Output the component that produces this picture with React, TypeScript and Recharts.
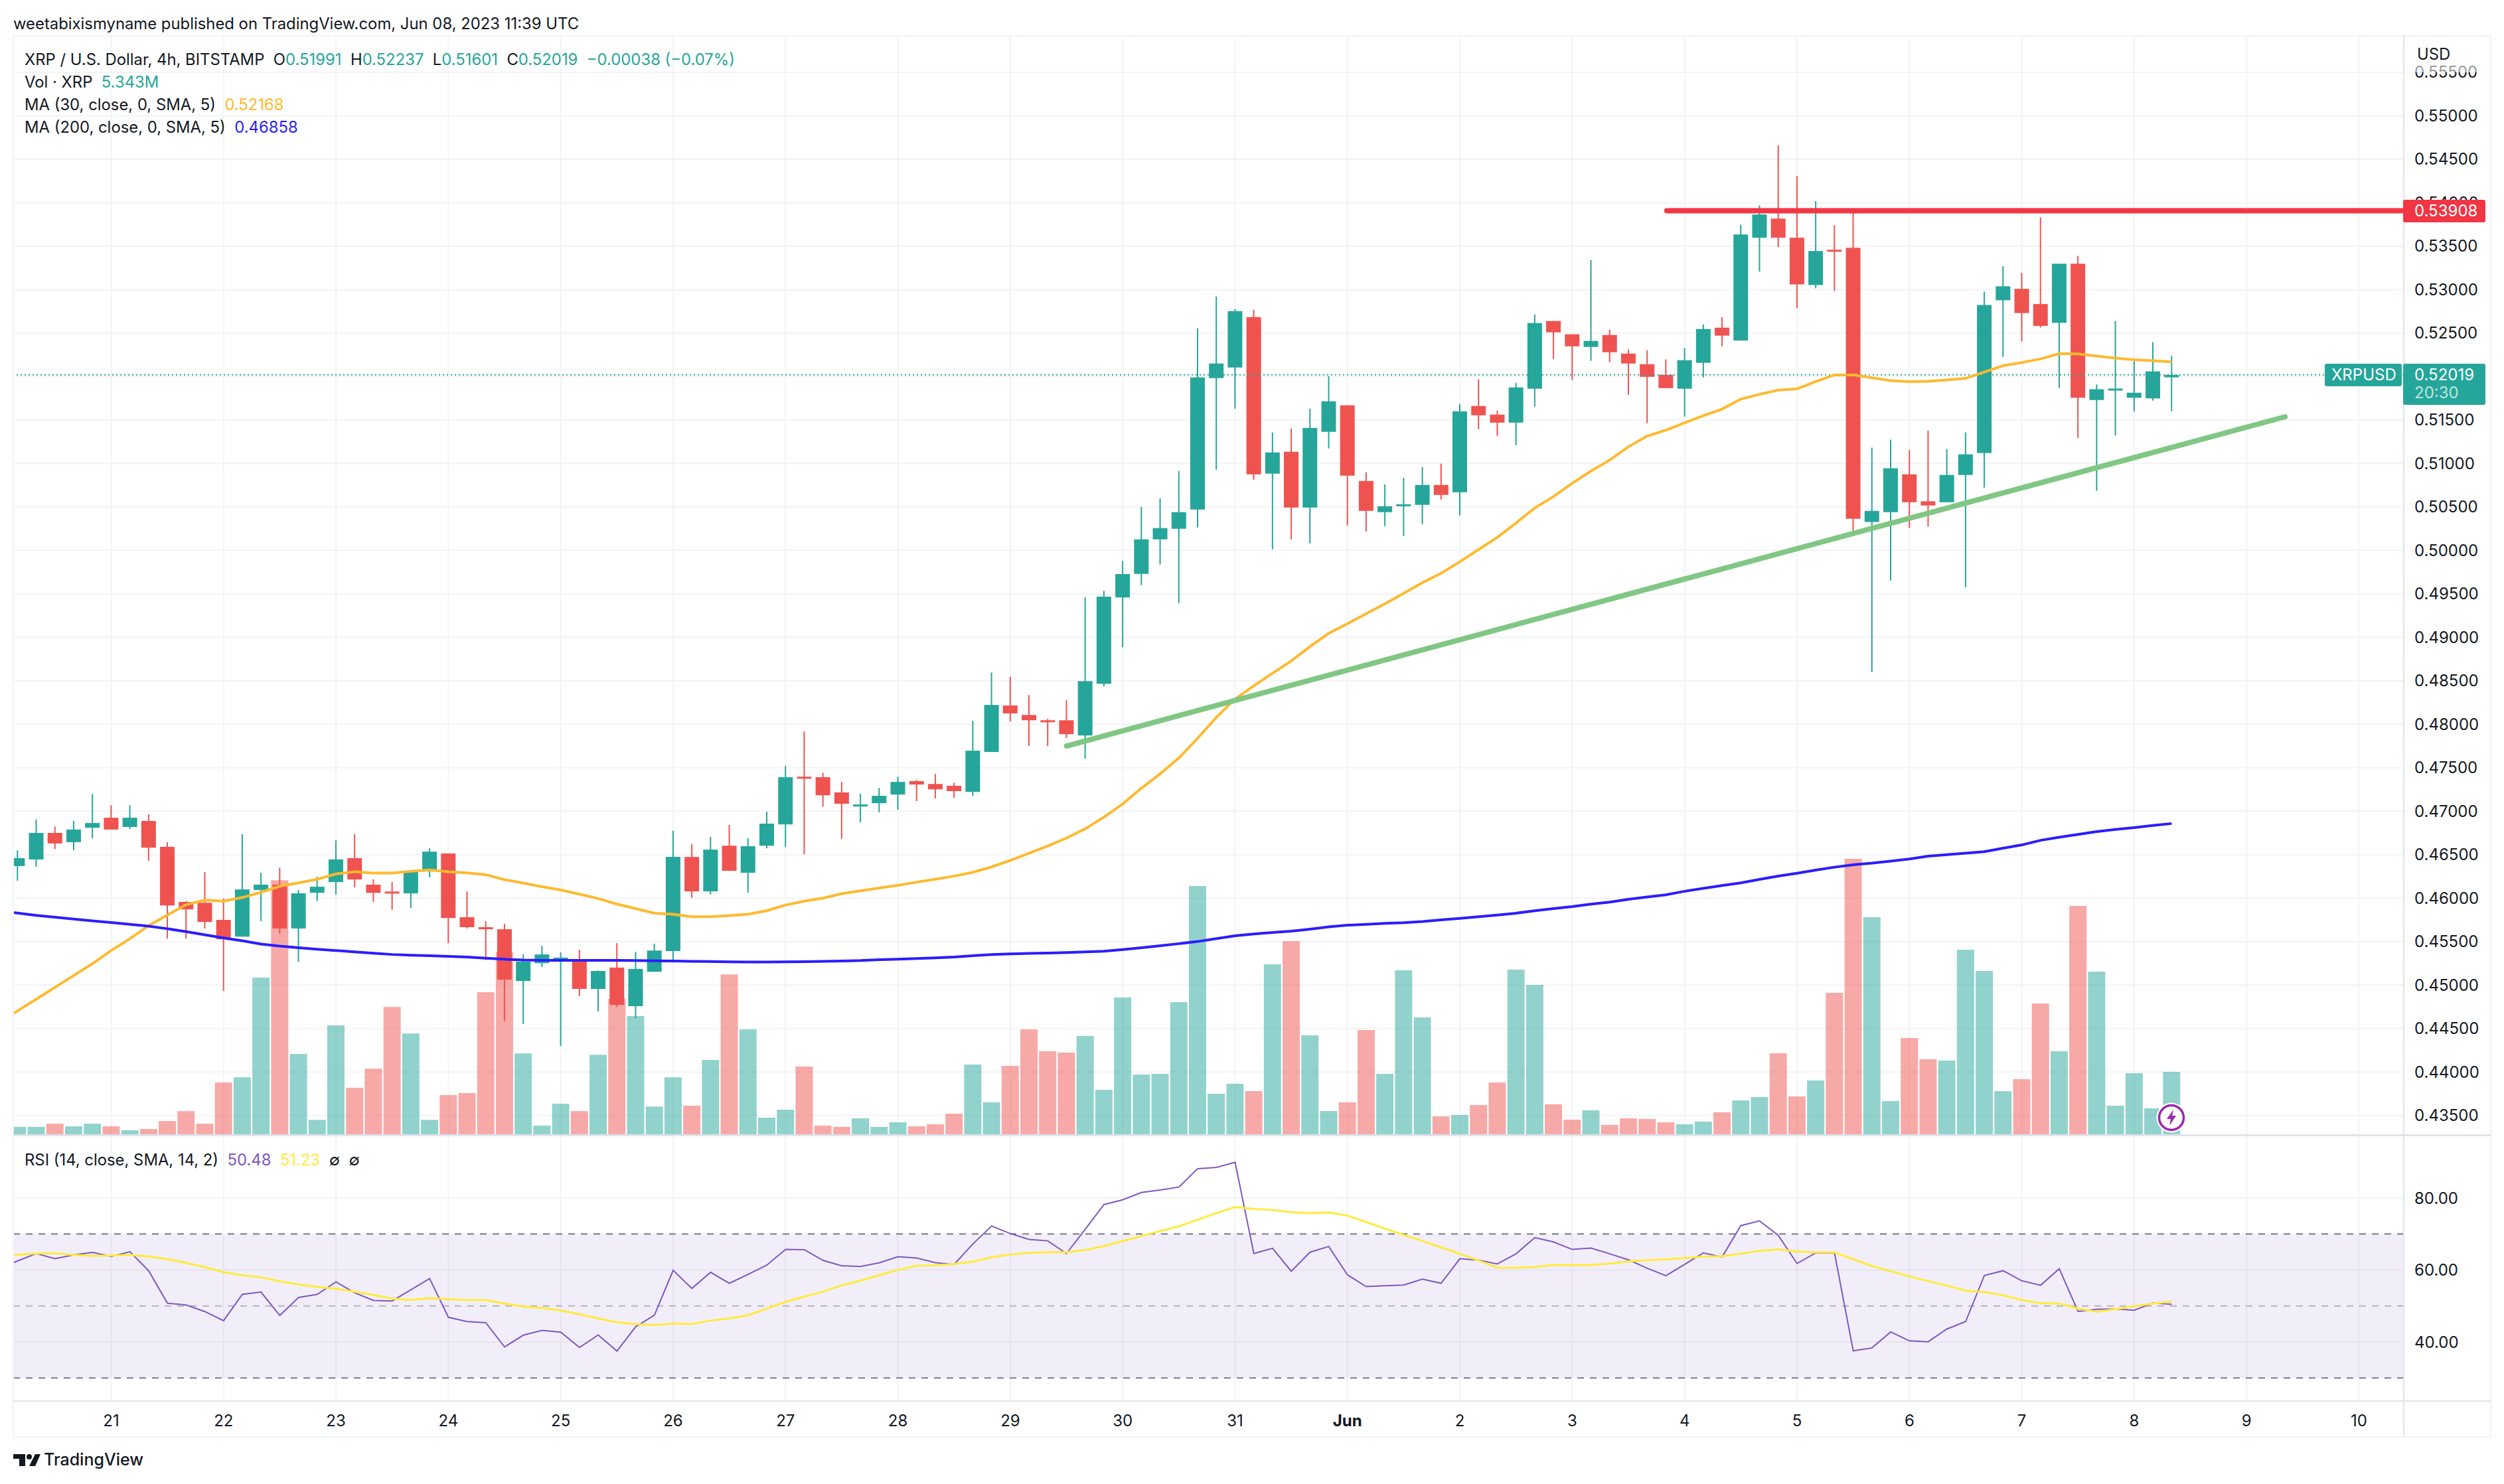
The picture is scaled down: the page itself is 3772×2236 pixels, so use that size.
import { Bar, CartesianGrid, Cell, ComposedChart, Line, ReferenceArea, ReferenceLine, XAxis, YAxis } from "recharts";

// candles run from bar -5 (May 20 04:00) to bar 110 (Jun 8 08:00), six bars a day, bar 0 = May 21
const highs = [
  0.4655, 0.46904, 0.46825, 0.46888, 0.47199,
  0.4707, 0.4707, 0.46964, 0.46644, 0.45965, 0.463,
  0.45995, 0.46735, 0.46291, 0.46351, 0.46094, 0.46245,
  0.46665, 0.46735, 0.46215, 0.46185, 0.46306, 0.46574,
  0.46514, 0.46076, 0.45735, 0.45705, 0.45352, 0.45451,
  0.45376, 0.45406, 0.45168, 0.45482, 0.45382, 0.45476,
  0.46774, 0.4662, 0.46703, 0.46842, 0.46688, 0.46993,
  0.47521, 0.47917, 0.47443, 0.47337, 0.47201, 0.47268,
  0.47397, 0.47361, 0.47428, 0.47328, 0.4804, 0.48596,
  0.48545, 0.48336, 0.48062, 0.48276, 0.49459, 0.49535,
  0.49879, 0.50501, 0.506, 0.50913, 0.52555, 0.52921,
  0.52776, 0.52768, 0.51356, 0.51402, 0.51631, 0.52005,
  0.51669, 0.50898, 0.5076, 0.50837, 0.50959, 0.50997,
  0.51684, 0.51967, 0.51608, 0.51929, 0.52715, 0.52639,
  0.52486, 0.53339, 0.52539, 0.5231, 0.52303, 0.52196,
  0.5233, 0.526, 0.52684, 0.53747, 0.5397, 0.54657,
  0.54306, 0.54018, 0.5374, 0.53882, 0.51182, 0.51274,
  0.51153, 0.51379, 0.51168, 0.51358, 0.52976, 0.53269,
  0.53192, 0.53831, 0.53298, 0.53389, 0.51909, 0.5264,
  0.52205, 0.52395, 0.52237,
];
const lows = [
  0.462, 0.4636, 0.46565, 0.4655, 0.46689,
  0.46789, 0.46795, 0.4643, 0.45536, 0.45536, 0.45651,
  0.44932, 0.45557, 0.45735, 0.4559, 0.45267, 0.45965,
  0.4604, 0.46125, 0.45956, 0.45865, 0.45886, 0.46239,
  0.45482, 0.45651, 0.45288, 0.44588, 0.44552, 0.45207,
  0.44298, 0.44872, 0.44697, 0.44748, 0.44618, 0.45153,
  0.45261, 0.46003, 0.46042, 0.46314, 0.46063, 0.46573,
  0.46588, 0.46504, 0.47053, 0.46682, 0.46872, 0.46987,
  0.47017, 0.47117, 0.47147, 0.47153, 0.47177, 0.47681,
  0.48031, 0.47751, 0.47751, 0.47841, 0.47606, 0.48436,
  0.48886, 0.49602, 0.49837, 0.49394, 0.50264, 0.50928,
  0.51631, 0.50814, 0.50012, 0.50127, 0.50081, 0.51173,
  0.50287, 0.50218, 0.50279, 0.50165, 0.50302, 0.50585,
  0.50402, 0.51394, 0.51318, 0.51211, 0.51654, 0.52203,
  0.51959, 0.52181, 0.52165, 0.51791, 0.51463, 0.51867,
  0.51539, 0.5199, 0.52348, 0.52414, 0.53206, 0.53488,
  0.52786, 0.53016, 0.52984, 0.50203, 0.486, 0.49655,
  0.50258, 0.50272, 0.50554, 0.49578, 0.50722, 0.52227,
  0.52403, 0.52563, 0.51869, 0.51295, 0.50685, 0.51321,
  0.51595, 0.51723, 0.51601,
];
const opens = [
  0.46369, 0.46445, 0.4675, 0.46644, 0.4681,
  0.46925, 0.46819, 0.46888, 0.4659, 0.45956, 0.45947,
  0.4575, 0.45557, 0.46094, 0.46155, 0.45651, 0.46061,
  0.46185, 0.4646, 0.46155, 0.46076, 0.46055, 0.46306,
  0.46514, 0.4578, 0.45666, 0.45642, 0.45047, 0.45252,
  0.45282, 0.45297, 0.44956, 0.45201, 0.44757, 0.45153,
  0.45391, 0.46474, 0.46078, 0.46603, 0.46292, 0.46603,
  0.46848, 0.47397, 0.47391, 0.47216, 0.47065, 0.47092,
  0.47192, 0.47346, 0.47313, 0.47292, 0.47222, 0.47681,
  0.48216, 0.48107, 0.48046, 0.48046, 0.47871, 0.48466,
  0.49459, 0.4973, 0.50127, 0.50249, 0.5047, 0.51982,
  0.52104, 0.52684, 0.50883, 0.51135, 0.50493, 0.51364,
  0.51669, 0.50799, 0.5044, 0.50516, 0.50524, 0.50753,
  0.50669, 0.51661, 0.51562, 0.5147, 0.5186, 0.52639,
  0.52486, 0.52341, 0.52478, 0.52264, 0.52142, 0.5202,
  0.5186, 0.52158, 0.52562, 0.52414, 0.53597, 0.53817,
  0.53597, 0.53053, 0.53459, 0.53481, 0.50327, 0.5044,
  0.50875, 0.50565, 0.50554, 0.50868, 0.5112, 0.52878,
  0.53009, 0.52834, 0.52618, 0.53298, 0.5173, 0.5184,
  0.51756, 0.51749, 0.51991,
];
const closes = [
  0.4646, 0.4675, 0.46629, 0.46789, 0.46864,
  0.46789, 0.46925, 0.4658, 0.45916, 0.45871, 0.45726,
  0.45527, 0.461, 0.46155, 0.45651, 0.46055, 0.46131,
  0.46445, 0.46215, 0.46061, 0.46055, 0.46306, 0.46535,
  0.45771, 0.45666, 0.45642, 0.45062, 0.4527, 0.45352,
  0.45316, 0.44956, 0.45162, 0.44772, 0.45186, 0.45397,
  0.46475, 0.46078, 0.46558, 0.46314, 0.46597, 0.46857,
  0.47391, 0.47382, 0.47183, 0.47086, 0.47077, 0.47177,
  0.47337, 0.47307, 0.47252, 0.47231, 0.47696, 0.48222,
  0.48125, 0.48046, 0.48031, 0.47886, 0.48496, 0.49468,
  0.49728, 0.50127, 0.50257, 0.5044, 0.5199, 0.5215,
  0.52753, 0.50875, 0.51127, 0.50493, 0.51409, 0.51715,
  0.5086, 0.50455, 0.50508, 0.50531, 0.50753, 0.50638,
  0.516, 0.51554, 0.5147, 0.51875, 0.52616, 0.52509,
  0.52348, 0.5241, 0.5228, 0.5215, 0.51997, 0.51867,
  0.52188, 0.52547, 0.52471, 0.53634, 0.53864, 0.53597,
  0.5306, 0.53444, 0.53437, 0.50364, 0.50455, 0.50945,
  0.50554, 0.50517, 0.50868, 0.51105, 0.52823, 0.53038,
  0.52731, 0.52582, 0.53298, 0.51756, 0.51854, 0.51862,
  0.51814, 0.52059, 0.52019,
];
// volume in millions of XRP
const volumes = [
  0.63, 0.63, 0.9, 0.68, 0.9,
  0.68, 0.34, 0.45, 1.13, 1.98, 0.9,
  4.43, 4.88, 13.41, 21.76, 6.88, 1.23,
  9.32, 3.98, 5.62, 10.9, 8.63, 1.23,
  3.35, 3.52, 12.16, 15.62, 6.92, 0.74,
  2.61, 1.98, 6.81, 11.6, 10.12, 2.38,
  4.88, 2.45, 6.36, 13.69, 8.98, 1.42,
  2.1, 5.8, 0.74, 0.63, 1.36, 0.63,
  1.02, 0.68, 0.85, 1.76, 5.97, 2.73,
  5.85, 8.98, 7.11, 6.99, 8.41, 3.81,
  11.71, 5.12, 5.17, 11.31, 21.26, 3.47,
  4.32, 3.69, 14.55, 16.54, 8.47, 1.99,
  2.73, 8.92, 5.17, 14.04, 10.0, 1.53,
  1.65, 2.5, 4.43, 14.1, 12.79, 2.56,
  1.25, 2.05, 0.8, 1.36, 1.31, 1.02,
  0.85, 1.08, 1.88, 2.9, 3.18, 6.93,
  3.24, 4.6, 12.11, 23.59, 18.59, 2.84,
  8.24, 6.42, 6.31, 15.8, 13.98, 3.69,
  4.72, 11.2, 7.11, 19.55, 13.93, 2.44,
  5.23, 2.22, 5.343,
];
const ma30 = [
  0.44703, 0.44838, 0.44974, 0.4511, 0.45246,
  0.45397, 0.45533, 0.45684, 0.45805, 0.45925, 0.45977,
  0.45965, 0.46007, 0.46067, 0.46137, 0.46176, 0.46218,
  0.46279, 0.46303, 0.46288, 0.46288, 0.46309, 0.46324,
  0.46303, 0.46291, 0.4627, 0.46212, 0.46173, 0.46131,
  0.46094, 0.46046, 0.45995, 0.45931, 0.4588, 0.45826,
  0.45814, 0.45786, 0.45786, 0.45799, 0.45815, 0.45855,
  0.45921, 0.45966, 0.46, 0.46051, 0.46084, 0.46117,
  0.46147, 0.46184, 0.46217, 0.46253, 0.46298, 0.46359,
  0.46434, 0.46516, 0.466, 0.46691, 0.46797, 0.46932,
  0.47083, 0.47265, 0.47431, 0.47612, 0.47838, 0.4808,
  0.48291, 0.48442, 0.48587, 0.48729, 0.48895, 0.49046,
  0.49157, 0.49272, 0.49386, 0.49506, 0.49628, 0.49737,
  0.4987, 0.5001, 0.5015, 0.50315, 0.50488, 0.5062,
  0.50773, 0.50913, 0.5104, 0.51193, 0.51315, 0.51384,
  0.51468, 0.51549, 0.51626, 0.51741, 0.51796, 0.51844,
  0.51858, 0.51942, 0.52019, 0.52019, 0.51986, 0.51953,
  0.51942, 0.51946, 0.5196, 0.51979, 0.52052, 0.52125,
  0.52161, 0.52202, 0.52264, 0.5226, 0.52235, 0.52213,
  0.52194, 0.52183, 0.52168,
];
const ma200 = [
  0.45829, 0.45802, 0.4578, 0.45759, 0.45738,
  0.4572, 0.45699, 0.45678, 0.45648, 0.45614, 0.45578,
  0.45542, 0.45509, 0.45472, 0.45448, 0.4543, 0.45412,
  0.45397, 0.45382, 0.45367, 0.45352, 0.45343, 0.45337,
  0.45331, 0.45322, 0.45309, 0.45297, 0.45288, 0.45285,
  0.45285, 0.45285, 0.45285, 0.45285, 0.45282, 0.45279,
  0.45276, 0.45273, 0.4527, 0.45267, 0.45265, 0.45265,
  0.45268, 0.45269, 0.45272, 0.45277, 0.45282, 0.45292,
  0.45297, 0.45305, 0.45313, 0.45323, 0.45338, 0.45351,
  0.45358, 0.45364, 0.45369, 0.45374, 0.45381, 0.45389,
  0.45409, 0.4543, 0.45453, 0.45476, 0.45501, 0.45534,
  0.45567, 0.45588, 0.45605, 0.45621, 0.45643, 0.45669,
  0.45689, 0.45699, 0.4571, 0.45717, 0.4573, 0.4575,
  0.45768, 0.45786, 0.45806, 0.45827, 0.45855, 0.4588,
  0.45903, 0.45931, 0.45954, 0.45987, 0.46013, 0.46038,
  0.46079, 0.46112, 0.46145, 0.46175, 0.46216, 0.46254,
  0.46287, 0.46323, 0.46356, 0.46384, 0.46402, 0.46425,
  0.4645, 0.46483, 0.465, 0.46517, 0.46535, 0.46575,
  0.46612, 0.46665, 0.467, 0.46733, 0.46765, 0.4679,
  0.46812, 0.46836, 0.46858,
];
const rsi = [
  62.49, 64.56, 63.12, 64.19, 64.88,
  63.75, 65.07, 59.78, 50.77, 50.26, 48.44,
  45.92, 53.22, 53.85, 47.37, 52.34, 53.22,
  56.69, 53.67, 51.52, 51.4, 54.48, 57.63,
  46.86, 45.66, 45.35, 38.61, 41.88, 43.21,
  42.7, 38.48, 41.95, 37.47, 44.22, 47.43,
  59.9, 54.86, 59.34, 56.31, 58.77, 61.35,
  65.7, 65.64, 62.67, 61.16, 60.97, 61.98,
  63.68, 63.3, 62.04, 61.54, 67.21, 72.19,
  70.11, 68.47, 68.09, 64.56, 71.31, 78.17,
  79.5, 81.51, 82.2, 83.02, 88.13, 88.5,
  89.89, 64.56, 66.01, 59.65, 64.94, 66.52,
  58.64, 55.37, 55.62, 55.81, 57.45, 56.31,
  63.12, 62.74, 61.67, 64.5, 68.97, 67.78,
  65.7, 66.08, 64.5, 62.8, 60.47, 58.39,
  61.54, 64.75, 63.62, 72.31, 73.64, 69.6,
  61.79, 64.75, 64.75, 37.54, 38.36, 42.77,
  40.31, 40.06, 43.59, 45.66, 58.45, 59.78,
  57.0, 55.74, 60.34, 48.5, 49.07, 49.19,
  48.81, 50.83, 50.48,
];
const rsiMa = [
  64.19, 64.56, 64.63, 64.19, 63.93,
  64.0, 64.19, 63.75, 62.99, 61.98, 60.78,
  59.4, 58.52, 57.95, 56.88, 56.0, 55.3,
  54.8, 53.98, 53.04, 52.03, 51.65, 52.15,
  51.9, 51.65, 51.59, 50.7, 49.82, 49.44,
  48.75, 47.68, 46.55, 45.48, 44.97, 44.72,
  45.1, 44.97, 45.92, 46.55, 47.43, 49.26,
  51.15, 52.59, 53.98, 55.74, 57.0, 58.52,
  60.03, 61.16, 61.29, 61.67, 62.3, 63.49,
  64.31, 64.75, 64.94, 64.94, 65.51, 66.64,
  68.03, 69.42, 70.8, 72.12, 73.95, 75.78,
  77.48, 76.98, 76.66, 76.03, 75.78, 75.97,
  75.09, 73.32, 71.49, 69.73, 68.03, 66.27,
  64.5, 62.61, 60.66, 60.6, 60.85, 61.35,
  61.35, 61.35, 61.79, 62.36, 62.74, 62.93,
  63.3, 63.75, 63.81, 64.5, 65.32, 65.7,
  65.13, 64.88, 64.88, 62.99, 61.1, 59.65,
  58.2, 56.88, 55.68, 54.23, 53.85, 52.97,
  51.65, 50.77, 50.7, 49.26, 48.37, 49.13,
  49.89, 50.64, 51.23,
];

const priceTicks = [
  0.435, 0.44, 0.445, 0.45, 0.455, 0.46, 0.465, 0.47, 0.475, 0.48, 0.485, 0.49, 0.495, 0.5,
  0.505, 0.51, 0.515, 0.52, 0.525, 0.53, 0.535, 0.54, 0.545, 0.55, 0.555,
];
const rsiTicks = [40, 60, 80];
const dayBars = [0, 6, 12, 18, 24, 30, 36, 42, 48, 54, 60, 66, 72, 78, 84, 90, 96, 102, 108, 114, 120];
const dayLabels = ["21", "22", "23", "24", "25", "26", "27", "28", "29", "30", "31", "Jun", "2", "3", "4", "5", "6", "7", "8", "9", "10"];

const resistance = 0.53908;
const lastPrice = 0.52019;
const trendStart = { x: 51, y: 0.4775 };
const trendEnd = { x: 116.05, y: 0.51537 };

// the indicators run off the left edge of the chart, so they get one bar more than the candles
const offscreenBar = { bar: -6, ma30: 0.44568, ma200: 0.4585, rsi: 60.4, rsiMa: 64.1 };

const rows: any[] = [
  offscreenBar,
  ...highs.map((high, i) => ({
    bar: i - 5,
    high,
    low: lows[i],
    open: opens[i],
    close: closes[i],
    volume: volumes[i],
    ma30: ma30[i],
    ma200: ma200[i],
    rsi: rsi[i],
    rsiMa: rsiMa[i],
  })),
];

const UP = "#26a69a";
const DOWN = "#ef5350";
const GRID = "#f2f3f5";
const EDGE = "#e0e3eb";
const FRAME = "#f0f3fa";
const INK = "#131722";
const FONT = "Inter, sans-serif";
const xDomain: [number, number] = [-5.2274, 122.391];

function Candle(props: any) {
  const { x, y, width, height, payload } = props;
  if (payload.high == null) return null;
  const top = Math.min(y, y + height);
  const h = Math.abs(height);
  const { open, close, high, low } = payload;
  const perUnit = h / (high - low);
  const color = close >= open ? UP : DOWN;
  const cx = x + width / 2;
  const bodyTop = top + (high - Math.max(open, close)) * perUnit;
  const bodyH = Math.max(Math.abs(open - close) * perUnit, 3);
  return (
    <g>
      <line x1={cx} x2={cx} y1={top} y2={top + h} stroke={color} strokeWidth={2} />
      <rect x={x} y={bodyTop} width={width} height={bodyH} fill={color} />
    </g>
  );
}

function DayTick(props: any) {
  const { x, y, payload } = props;
  const label = dayLabels[dayBars.indexOf(payload.value)];
  return (
    <text x={x} y={y + 27} textAnchor="middle" dominantBaseline="central" fontFamily={FONT} fontSize={24} fill={INK} fontWeight={label === "Jun" ? 700 : 400}>
      {label}
    </text>
  );
}

const textStyle: React.CSSProperties = { position: "absolute", fontFamily: FONT, fontSize: 23.85, lineHeight: "30px", color: INK, whiteSpace: "pre" };

function Legend() {
  return (
    <>
      <div style={{ ...textStyle, left: 20, top: 21 }}>weetabixismyname published on TradingView.com, Jun 08, 2023 11:39 UTC</div>
      <div style={{ ...textStyle, left: 37, top: 75 }}>
        XRP / U.S. Dollar, 4h, BITSTAMP{"  "}O<span style={{ color: UP }}>0.51991</span>{"  "}H<span style={{ color: UP }}>0.52237</span>{"  "}L<span style={{ color: UP }}>0.51601</span>{"  "}C<span style={{ color: UP }}>0.52019{"  "}−0.00038 (−0.07%)</span>
      </div>
      <div style={{ ...textStyle, left: 37, top: 109 }}>Vol · XRP{"  "}<span style={{ color: UP }}>5.343M</span></div>
      <div style={{ ...textStyle, left: 37, top: 143 }}>MA (30, close, 0, SMA, 5){"  "}<span style={{ color: "#ffb92e" }}>0.52168</span></div>
      <div style={{ ...textStyle, left: 37, top: 177 }}>MA (200, close, 0, SMA, 5){"  "}<span style={{ color: "#2a1dff" }}>0.46858</span></div>
      <div style={{ ...textStyle, left: 37, top: 1733 }}>
        RSI (14, close, SMA, 14, 2){"  "}<span style={{ color: "#7e57c2" }}>50.48</span>{"  "}<span style={{ color: "#ffeb3b" }}>51.23</span>{"  "}∅{"  "}∅
      </div>
      <div style={{ ...textStyle, left: 3641, top: 67 }}>USD</div>
    </>
  );
}

function PriceTags() {
  const box: React.CSSProperties = { position: "absolute", borderRadius: 3, fontFamily: FONT, fontSize: 24, color: "#fff", whiteSpace: "pre" };
  return (
    <>
      {/* the top tick is half faded under the currency label */}
      <div style={{ position: "absolute", left: 3630, top: 98, width: 110, height: 11, background: "rgba(255,255,255,0.55)" }} />
      <div style={{ ...box, left: 3620, top: 301, width: 124, height: 34, lineHeight: "34px", background: "#f23645", paddingLeft: 17, boxSizing: "border-box" }}>0.53908</div>
      <div style={{ ...box, left: 3502, top: 548, width: 116, height: 34, lineHeight: "34px", background: UP, paddingLeft: 10, boxSizing: "border-box" }}>XRPUSD</div>
      <div style={{ ...box, left: 3620, top: 548, width: 124, height: 62, lineHeight: "27px", background: UP, paddingLeft: 17, paddingTop: 3, boxSizing: "border-box" }}>
        0.52019
        <br />
        <span style={{ color: "#bfe5e1" }}>20:30</span>
      </div>
    </>
  );
}

function Frame() {
  const line = (left: number, top: number, width: number, height: number, background: string) => (
    <div style={{ position: "absolute", left, top, width, height, background }} />
  );
  return (
    <>
      {line(20, 53, 3733, 2, FRAME)}
      {line(20, 2164, 3733, 2, FRAME)}
      {line(19, 53, 2, 2113, FRAME)}
      {line(3751, 53, 2, 2113, FRAME)}
      {line(3620, 53, 2, 2112, EDGE)}
      {line(20, 1709, 3733, 3, EDGE)}
      {line(20, 2110, 3733, 2, EDGE)}
    </>
  );
}

function Bolt() {
  return (
    <svg width={48} height={48} style={{ position: "absolute", left: 3247, top: 1660 }}>
      <circle cx={24} cy={24} r={22.5} fill="#fff" />
      <circle cx={24} cy={24} r={18.5} fill="#fff" stroke="#9c27b0" strokeWidth={3.5} />
      <polygon points="27,12 17,26 23,26 21,36 31,21 25,21" fill="#9c27b0" />
    </svg>
  );
}

function Logo() {
  return (
    <svg width={240} height={40} style={{ position: "absolute", left: 20, top: 2180 }}>
      <path d="M0 11H18V29H9V18H0Z" fill={INK} />
      <circle cx={24} cy={15} r={4} fill={INK} />
      <path d="M33 11H41L33 29H24Z" fill={INK} />
      <text x={46} y={28} fontFamily={FONT} fontSize={25} fontWeight={500} fill={INK}>TradingView</text>
    </svg>
  );
}

export default function App() {
  return (
    <div style={{ position: "absolute", left: 0, top: 0, width: 3772, height: 2236, background: "#fff", overflow: "hidden" }}>
      <div style={{ position: "absolute", left: 20, top: 53 }}>
        <ComposedChart width={3732} height={1658} data={rows} margin={{ top: 0, right: 0, bottom: 0, left: 0 }}>
          <XAxis xAxisId="main" type="number" dataKey="bar" domain={xDomain} ticks={dayBars} hide allowDataOverflow />
          <XAxis xAxisId="vol" type="number" dataKey="bar" domain={xDomain} ticks={dayBars} hide allowDataOverflow />
          <YAxis
            yAxisId="price"
            orientation="right"
            width={131}
            domain={[0.432687, 0.55927]}
            ticks={priceTicks}
            interval={0}
            allowDataOverflow
            axisLine={false}
            tickLine={false}
            tickSize={0}
            tickMargin={16}
            tickFormatter={(v: number) => v.toFixed(5)}
            tick={{ fontFamily: FONT, fontSize: 24, fill: INK, textAnchor: "start" }}
          />
          <YAxis yAxisId="volume" hide domain={[-0.114, 94.14]} allowDataOverflow />
          <CartesianGrid xAxisId="main" yAxisId="price" stroke={GRID} strokeWidth={2} />
          <ReferenceLine xAxisId="main" yAxisId="price" y={lastPrice} stroke={UP} strokeWidth={2} strokeDasharray="2 4" />
          <Line xAxisId="main" yAxisId="price" dataKey="ma30" type="linear" stroke="#ffb92e" strokeWidth={4} dot={false} isAnimationActive={false} />
          <Line xAxisId="main" yAxisId="price" dataKey="ma200" type="linear" stroke="#2a1dff" strokeWidth={4} dot={false} isAnimationActive={false} />
          <Bar xAxisId="vol" yAxisId="volume" dataKey="volume" barSize={26} isAnimationActive={false}>
            {rows.map((r) => (
              <Cell key={r.bar} fill={r.close >= r.open ? UP : DOWN} fillOpacity={0.5} />
            ))}
          </Bar>
          <Bar xAxisId="main" yAxisId="price" dataKey={(r: any) => (r.high == null ? null : [r.low, r.high])} barSize={22} shape={<Candle />} isAnimationActive={false} />
          <ReferenceLine xAxisId="main" yAxisId="price" segment={[trendStart, trendEnd]} stroke="#81c784" strokeWidth={8} strokeLinecap="round" />
          <ReferenceLine xAxisId="main" yAxisId="price" segment={[{ x: 83.05, y: resistance }, { x: xDomain[1], y: resistance }]} stroke="#f23645" strokeWidth={8} strokeLinecap="round" />
        </ComposedChart>
      </div>
      <div style={{ position: "absolute", left: 20, top: 1711 }}>
        <ComposedChart width={3732} height={454} data={rows} margin={{ top: 0, right: 0, bottom: 0, left: 0 }}>
          <XAxis
            type="number"
            dataKey="bar"
            domain={xDomain}
            ticks={dayBars}
            interval={0}
            height={54}
            allowDataOverflow
            axisLine={false}
            tickLine={false}
            tickSize={0}
            tick={<DayTick />}
          />
          <YAxis
            orientation="right"
            width={131}
            domain={[23.59, 97.33]}
            ticks={rsiTicks}
            interval={0}
            allowDataOverflow
            axisLine={false}
            tickLine={false}
            tickSize={0}
            tickMargin={16}
            tickFormatter={(v: number) => v.toFixed(2)}
            tick={{ fontFamily: FONT, fontSize: 24, fill: INK, textAnchor: "start" }}
          />
          <CartesianGrid stroke={GRID} strokeWidth={2} />
          <ReferenceArea y1={30} y2={70} fill="#7e57c2" fillOpacity={0.1} stroke="none" />
          <ReferenceLine y={70} stroke="#787b86" strokeWidth={2} strokeDasharray="10 9" />
          <ReferenceLine y={50} stroke="#787b86" strokeOpacity={0.5} strokeWidth={2} strokeDasharray="10 9" />
          <ReferenceLine y={30} stroke="#787b86" strokeWidth={2} strokeDasharray="10 9" />
          <Line dataKey="rsi" type="linear" stroke="#7e57c2" strokeWidth={2} dot={false} isAnimationActive={false} />
          <Line dataKey="rsiMa" type="linear" stroke="#ffeb3b" strokeWidth={3} dot={false} isAnimationActive={false} />
        </ComposedChart>
      </div>
      <Frame />
      <Legend />
      <PriceTags />
      <Bolt />
      <Logo />
    </div>
  );
}
